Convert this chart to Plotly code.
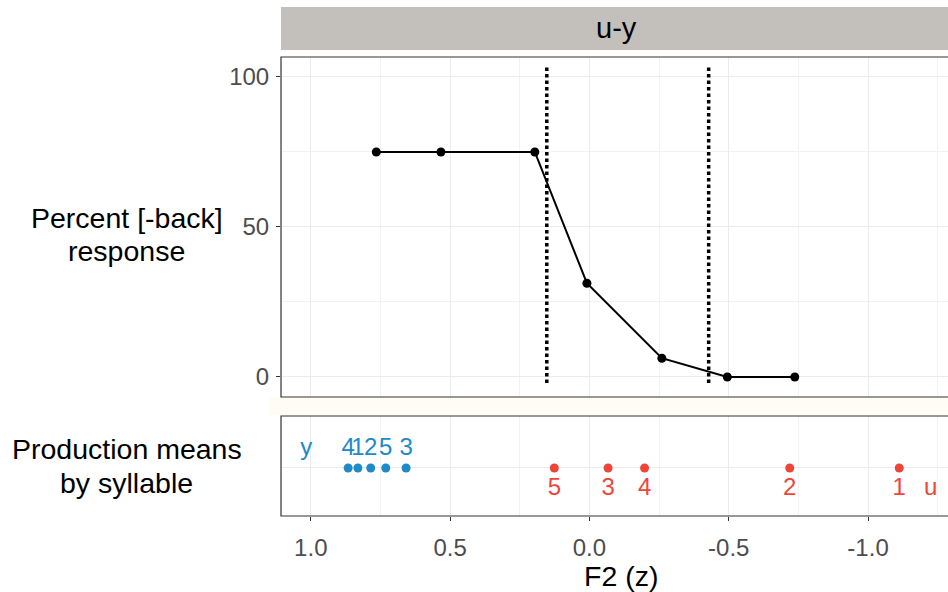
import plotly.graph_objects as go

# ---- data ----
resp_f2 = [0.765, 0.533, 0.196, 0.009, -0.26, -0.495, -0.737]
resp_pct = [75, 75, 75, 31.25, 6.25, 0, 0]
boundaries = [0.153, -0.428]

y_f2 = [0.866, 0.831, 0.785, 0.731, 0.658]
y_labels = ["4", "1", "2", "5", "3"]
u_f2 = [0.126, -0.067, -0.198, -0.719, -1.112]
u_labels = ["5", "3", "4", "2", "1"]
vowel_names = ["y", "u"]
vowel_f2 = [1.016, -1.225]

x_ticks = [1.0, 0.5, 0.0, -0.5, -1.0]
x_ticklabels = ["1.0", "0.5", "0.0", "-0.5", "-1.0"]
y_ticks = [0, 50, 100]

BLUE = "#2089C8"
RED = "#EF4539"
FONT = "Liberation Sans, Arial, sans-serif"
TICK = 24
TITLE = 28.5

fig = go.Figure()

# top panel
fig.add_trace(go.Scatter(x=resp_f2, y=resp_pct, mode="lines+markers",
                         line=dict(color="black", width=2),
                         marker=dict(color="black", size=9),
                         xaxis="x", yaxis="y", showlegend=False, hoverinfo="skip"))
for b in boundaries:
    fig.add_trace(go.Scatter(x=[b, b], y=[-2, 104], mode="lines",
                             line=dict(color="black", width=3.5, dash="3.5px,3px"),
                             xaxis="x", yaxis="y", showlegend=False, hoverinfo="skip"))

# bottom panel
fig.add_trace(go.Scatter(x=y_f2, y=[0] * len(y_f2), mode="markers",
                         marker=dict(color=BLUE, size=9),
                         xaxis="x2", yaxis="y2", showlegend=False, hoverinfo="skip"))
fig.add_trace(go.Scatter(x=y_f2, y=[0.38] * len(y_f2), mode="text", text=y_labels,
                         textfont=dict(color=BLUE, size=TICK, family=FONT),
                         xaxis="x2", yaxis="y2", showlegend=False, hoverinfo="skip"))
fig.add_trace(go.Scatter(x=u_f2, y=[0] * len(u_f2), mode="markers",
                         marker=dict(color=RED, size=9),
                         xaxis="x2", yaxis="y2", showlegend=False, hoverinfo="skip"))
fig.add_trace(go.Scatter(x=u_f2, y=[-0.42] * len(u_f2), mode="text", text=u_labels,
                         textfont=dict(color=RED, size=TICK, family=FONT),
                         xaxis="x2", yaxis="y2", showlegend=False, hoverinfo="skip"))
fig.add_trace(go.Scatter(x=vowel_f2, y=[0.38, -0.42], mode="text", text=vowel_names,
                         textfont=dict(color=[BLUE, RED], size=TICK, family=FONT),
                         xaxis="x2", yaxis="y2", showlegend=False, hoverinfo="skip"))

XR = [1.107, -1.287]
grid = "#EBEBEB"
common_x = dict(range=XR, showline=False, zeroline=False, gridcolor=grid, gridwidth=1.2,
                tickvals=x_ticks, minor=dict(dtick=0.25, showgrid=True, gridcolor="#F2F2F2", gridwidth=0.9))

fig.update_layout(
    width=948, height=592,
    margin=dict(l=281, r=0, t=7, b=76),
    paper_bgcolor="white", plot_bgcolor="white",
    font=dict(family=FONT, color="black"),
    xaxis=dict(**common_x, anchor="y", domain=[0, 1], showticklabels=False, ticks=""),
    yaxis=dict(domain=[0.2338, 0.9018], range=[-6.67, 106.67], tickvals=y_ticks,
               showline=False, zeroline=False, gridcolor=grid, gridwidth=1.2,
               minor=dict(tickvals=[25, 75], showgrid=True, gridcolor="#F2F2F2", gridwidth=0.9),
               ticks="outside", ticklen=4, tickcolor="#333333", tickwidth=1.2,
               ticklabelstandoff=2,
               tickfont=dict(size=TICK, color="#4D4D4D", family=FONT), anchor="x"),
    xaxis2=dict(**common_x, anchor="y2", domain=[0, 1], ticktext=x_ticklabels,
                ticks="outside", ticklen=4, tickcolor="#333333", tickwidth=1.2,
                ticklabelstandoff=6,
                tickfont=dict(size=TICK, color="#4D4D4D", family=FONT)),
    yaxis2=dict(domain=[0, 0.1965], range=[-0.96, 1.04], tickvals=[0], showticklabels=False,
                ticks="", showline=False, zeroline=False, gridcolor=grid, gridwidth=1.2,
                anchor="x2"),
)

# strip, panel borders, gap band
fig.add_shape(type="rect", xref="paper", yref="paper", x0=-0.018, x1=1.05, y0=0.1984, y1=0.2318,
              fillcolor="#FFFCF4", line=dict(width=0), layer="below")
fig.add_shape(type="rect", xref="paper", yref="paper", x0=0, x1=1.05, y0=0.9155, y1=1.0,
              fillcolor="#C3BFBB", line=dict(width=0))
fig.add_shape(type="rect", xref="paper", yref="y domain", x0=0, x1=1.05, y0=0, y1=1,
              line=dict(color="#333333", width=1.2), fillcolor="rgba(0,0,0,0)")
fig.add_shape(type="rect", xref="paper", yref="y2 domain", x0=0, x1=1.05, y0=0, y1=1,
              line=dict(color="#333333", width=1.2), fillcolor="rgba(0,0,0,0)")

# annotations (strip text and axis titles)
PLOT_TOP, PLOT_H = 7, 509


def py(px):
    return (PLOT_TOP + PLOT_H - px) / PLOT_H


fig.add_annotation(text="u-y", xref="paper", yref="paper", x=0.503, y=0.958,
                   showarrow=False, font=dict(size=29, color="black", family=FONT),
                   xanchor="center", yanchor="middle")
for txt, pix in [("Percent [-back]", 218), ("response", 251),
                 ("Production means", 449), ("by syllable", 483)]:
    fig.add_annotation(text=txt, xref="paper", yref="paper", x=-0.2309, y=py(pix),
                       showarrow=False, font=dict(size=TITLE, color="black", family=FONT),
                       xanchor="center", yanchor="middle")
fig.add_annotation(text="F2 (z)", xref="paper", yref="paper", x=0.5097, y=-0.1179,
                   showarrow=False, font=dict(size=TITLE, color="black", family=FONT),
                   xanchor="center", yanchor="middle")

fig.write_html("out.html", config={"displayModeBar": False},
               post_script="document.body.style.margin='0';")
